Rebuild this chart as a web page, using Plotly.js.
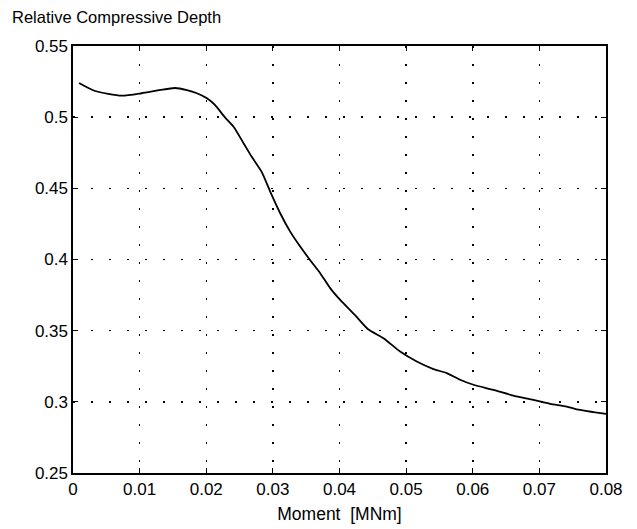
<!DOCTYPE html>
<html>
<head>
<meta charset="utf-8">
<script src="https://cdn.plot.ly/plotly-3.0.1.min.js"></script>
<style>html,body{margin:0;padding:0;background:#fff;}#chart{width:637px;height:529px;}</style>
</head>
<body>
<div id="chart"></div>
<script>
const moment = [0.0009, 0.0033, 0.0073, 0.0103, 0.0131, 0.0153, 0.0171, 0.0186, 0.0201, 0.0213, 0.0228, 0.0241, 0.0256, 0.0268, 0.0283, 0.0296, 0.0311, 0.0326, 0.0341, 0.0356, 0.0371, 0.0386, 0.0401, 0.0423, 0.0443, 0.0466, 0.0491, 0.0516, 0.0541, 0.0561, 0.0581, 0.0601, 0.0631, 0.0661, 0.0691, 0.0716, 0.0741, 0.0756, 0.0781, 0.0800];
const depth  = [0.524, 0.5184, 0.5151, 0.5168, 0.5191, 0.5205, 0.519, 0.5168, 0.5133, 0.5086, 0.4999, 0.4933, 0.4817, 0.4723, 0.4617, 0.4477, 0.4325, 0.4196, 0.4091, 0.3995, 0.3904, 0.3799, 0.3716, 0.3611, 0.351, 0.3447, 0.3353, 0.3283, 0.323, 0.3202, 0.3155, 0.312, 0.3084, 0.3044, 0.3014, 0.2986, 0.2967, 0.2947, 0.2928, 0.2915];
const xTicks = [0, 0.01, 0.02, 0.03, 0.04, 0.05, 0.06, 0.07, 0.08];
const xTickText = ['0', '0.01', '0.02', '0.03', '0.04', '0.05', '0.06', '0.07', '0.08'];
const yTicks = [0.25, 0.3, 0.35, 0.4, 0.45, 0.5, 0.55];
const yTickText = ['0.25', '0.3', '0.35', '0.4', '0.45', '0.5', '0.55'];

const fam = 'Liberation Sans, Arial, Helvetica, sans-serif';
const tickFont = {family: fam, color: '#000', size: 17};
const axisCommon = {
  showline: true, linecolor: '#000', linewidth: 1.6, mirror: 'ticks',
  ticks: 'inside', ticklen: 5, tickcolor: '#000', tickwidth: 1.2,
  showgrid: true, gridcolor: '#000', gridwidth: 1.5, griddash: '2px,16px',
  zeroline: false, tickfont: tickFont
};
Plotly.newPlot('chart', [{
  x: moment, y: depth, type: 'scatter', mode: 'lines',
  line: {color: '#000', width: 1.8, shape: 'spline', smoothing: 0.6},
  hoverinfo: 'skip', showlegend: false
}], {
  width: 637, height: 529,
  margin: {l: 73, r: 31, t: 46, b: 56},
  paper_bgcolor: '#fff', plot_bgcolor: '#fff',
  font: tickFont,
  title: {text: 'Relative Compressive Depth', font: {family: fam, size: 16.5, color: '#000'},
          x: 12/637, xanchor: 'left', xref: 'container', y: 1 - 17/529, yanchor: 'middle', yref: 'container'},
  xaxis: Object.assign({}, axisCommon, {range: [0, 0.08], tickvals: xTicks, ticktext: xTickText,
          title: {text: 'Moment  [MNm]', font: {family: fam, size: 17.5, color: '#000'}, standoff: 10}}),
  yaxis: Object.assign({}, axisCommon, {range: [0.25, 0.55], tickvals: yTicks, ticktext: yTickText})
}, {staticPlot: true});
</script>
</body>
</html>
